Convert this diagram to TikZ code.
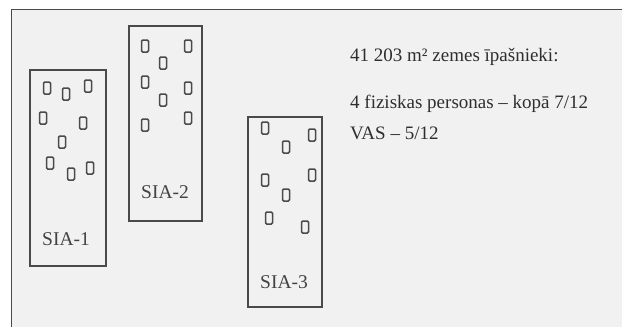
\documentclass[tikz,border=0pt]{standalone}
\usepackage{fontspec}
\setmainfont{Liberation Serif}
\usepackage{xcolor}
\usepackage{tikz}
\usetikzlibrary{positioning}

\definecolor{paper}{HTML}{F1F1F1}
\definecolor{ink}{HTML}{4A4A4A}

\begin{document}
\begin{tikzpicture}[
  x=1pt, y=-1pt,
  plot/.style={draw=ink, line width=2pt, fill=paper, inner sep=0pt},
  house/.style={draw=ink, line width=1.5pt, rounded corners=1.3pt, fill=paper,
              minimum width=7pt, minimum height=12pt, inner sep=0pt},
  plotname/.style={text=ink!90!black, font=\fontsize{19.5}{22}\selectfont, inner sep=0pt},
  owners/.style={text=black!82, font=\fontsize{19}{22}\selectfont, anchor=base west, inner sep=0pt},
]

% --- sheet and frame ---
\useasboundingbox (0,0) rectangle (622,327);
\fill[white] (0,0) rectangle (622,327);
\fill[paper] (11,9) rectangle (622,327);
\draw[ink, line width=1pt] (622,9) -- (11,9) -- (11,327);

% --- the three plots ---
\node[plot, minimum width=76pt, minimum height=196pt] (sia1) at (68,168) {};
\node[plot, minimum width=73pt, minimum height=195pt] (sia2) at (165.5,123.5) {};
\node[plot, minimum width=74pt, minimum height=190pt] (sia3) at (285,212) {};

\node[plotname] (name1) at (66,239) {SIA-1};
\node[plotname] (name2) at (165,192) {SIA-2};
\node[plotname] (name3) at (284,282) {SIA-3};

% --- buildings on SIA-1 ---
\node[house] (h11) at (47,88) {};
\node[house] (h12) at (66,94) {};
\node[house] (h13) at (88,86) {};
\node[house] (h14) at (43,118) {};
\node[house] (h15) at (83,123) {};
\node[house] (h16) at (62,142) {};
\node[house] (h17) at (50,163) {};
\node[house] (h18) at (71,174) {};
\node[house] (h19) at (90,168) {};

% --- buildings on SIA-2 ---
\node[house] (h21) at (145,46) {};
\node[house] (h22) at (188,46) {};
\node[house] (h23) at (163,63) {};
\node[house] (h24) at (145,82) {};
\node[house] (h25) at (188,88) {};
\node[house] (h26) at (163,100) {};
\node[house] (h27) at (145,125) {};
\node[house] (h28) at (188,118) {};

% --- buildings on SIA-3 ---
\node[house] (h31) at (265,128) {};
\node[house] (h32) at (286,147) {};
\node[house] (h33) at (312,135) {};
\node[house] (h34) at (265,180) {};
\node[house] (h35) at (286,195) {};
\node[house] (h36) at (312,175) {};
\node[house] (h37) at (269,218) {};
\node[house] (h38) at (305,227) {};

% --- ownership note ---
\node[owners] (area) at (350,61) {41 203 m² zemes īpašnieki:};
\node[owners] (persons) at (350,108) {4 fiziskas personas – kopā 7/12};
\node[owners] (vas) at (350,139) {VAS – 5/12};

\end{tikzpicture}
\end{document}
